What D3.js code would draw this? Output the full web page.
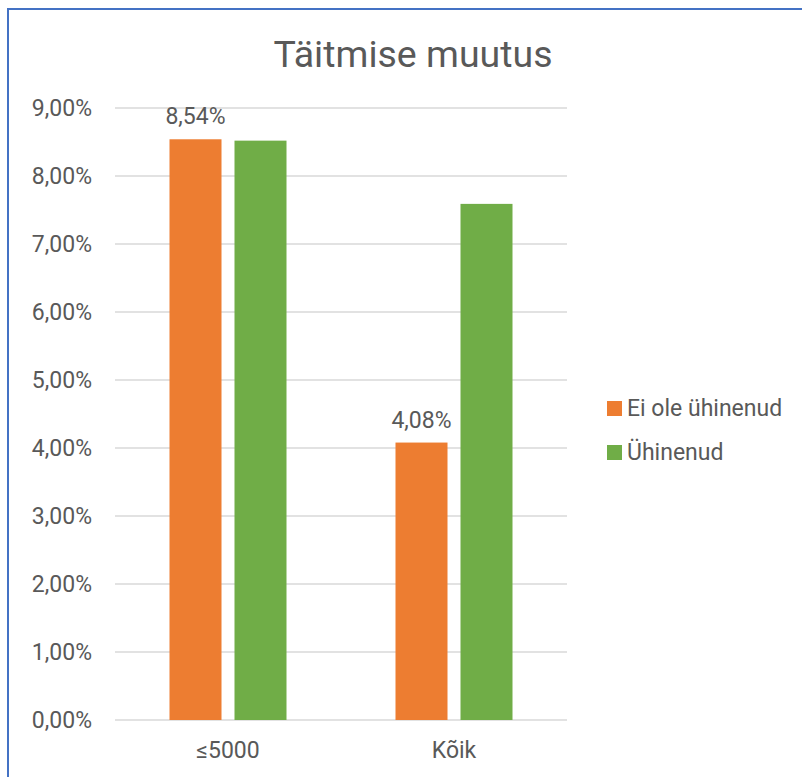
<!DOCTYPE html>
<html>
<head>
<meta charset="utf-8">
<script src="https://cdn.jsdelivr.net/npm/d3@7"></script>
<style>
  body { margin: 0; background: #fff; }
  text { font-family: Roboto, "Noto Sans", sans-serif; fill: #595959; }
</style>
</head>
<body>
<script>
var categories = ["≤5000", "Kõik"];
var seriesNames = ["Ei ole ühinenud", "Ühinenud"];
var seriesColors = ["#ED7D31", "#70AD47"];
var eiOleUhinenud = [0.0854, 0.0408];
var uhinenud = [0.0852, 0.0759];
var labelShown = [[true, true], [false, false]];
var yTicks = [0, 0.01, 0.02, 0.03, 0.04, 0.05, 0.06, 0.07, 0.08, 0.09];

var W = 802, H = 777;
var margin = {top: 108, left: 115, right: 235, bottom: 57};
var width = W - margin.left - margin.right,
    height = H - margin.top - margin.bottom;

var svg = d3.select("body").append("svg")
    .attr("width", W)
    .attr("height", H);

// chart frame
svg.append("rect")
    .attr("x", 8).attr("y", 9)
    .attr("width", W + 20).attr("height", H + 20)
    .attr("fill", "none")
    .attr("stroke", "#4472C4")
    .attr("stroke-width", 2);

svg.append("text")
    .attr("x", 413)
    .attr("y", 67)
    .attr("text-anchor", "middle")
    .style("font-size", "37.5px")
    .text("Täitmise muutus");

var g = svg.append("g")
    .attr("transform", "translate(" + margin.left + "," + margin.top + ")");

var x0 = d3.scaleBand().domain(categories).range([0, width]);
var x1 = d3.scaleBand().domain(seriesNames).range([0, 117]).paddingInner(0.2);
var y = d3.scaleLinear().domain([0, 0.09]).range([height, 0]);

var fmt = function(v) { return (v * 100).toFixed(2).replace(".", ",") + "%"; };

// gridlines
g.selectAll("line.grid")
  .data(yTicks)
  .enter().append("line")
    .attr("class", "grid")
    .attr("x1", 0).attr("x2", width)
    .attr("y1", function(d) { return y(d); })
    .attr("y2", function(d) { return y(d); })
    .attr("stroke", "#d9d9d9")
    .attr("stroke-width", 1.5);

var yAxis = g.append("g")
    .call(d3.axisLeft(y).tickValues(yTicks).tickFormat(fmt).tickSize(0).tickPadding(23));
yAxis.select(".domain").remove();
yAxis.selectAll("text")
    .style("font-size", "23px")
    .style("font-family", "Roboto, sans-serif")
    .attr("fill", "#595959");

var xAxis = g.append("g")
    .attr("transform", "translate(0," + height + ")")
    .call(d3.axisBottom(x0).tickSize(0).tickPadding(22));
xAxis.select(".domain").remove();
xAxis.selectAll("text")
    .style("font-size", "23px")
    .style("font-family", "Roboto, sans-serif")
    .attr("fill", "#595959");

var series = [eiOleUhinenud, uhinenud];
var groupOffset = (x0.bandwidth() - 117) / 2;

series.forEach(function(vals, s) {
  g.selectAll("rect.s" + s)
    .data(vals)
    .enter().append("rect")
      .attr("class", "s" + s)
      .attr("x", function(d, i) { return x0(categories[i]) + groupOffset + x1(seriesNames[s]); })
      .attr("y", function(d) { return y(d); })
      .attr("width", x1.bandwidth())
      .attr("height", function(d) { return height - y(d); })
      .attr("fill", seriesColors[s]);

  g.selectAll("text.l" + s)
    .data(vals)
    .enter().filter(function(d, i) { return labelShown[s][i]; })
    .append("text")
      .attr("class", "l" + s)
      .attr("x", function(d, i) { return x0(categories[i]) + groupOffset + x1(seriesNames[s]) + x1.bandwidth() / 2; })
      .attr("y", function(d) { return y(d) - 15; })
      .attr("text-anchor", "middle")
      .style("font-size", "23px")
      .text(fmt);
});

// legend
var legend = svg.append("g").attr("transform", "translate(607,401)");
seriesNames.forEach(function(name, i) {
  var row = legend.append("g").attr("transform", "translate(0," + (i * 44) + ")");
  row.append("rect")
      .attr("width", 15).attr("height", 15)
      .attr("fill", seriesColors[i]);
  row.append("text")
      .attr("x", 20).attr("y", 15)
      .style("font-size", "23px")
      .text(name);
});
</script>
</body>
</html>
